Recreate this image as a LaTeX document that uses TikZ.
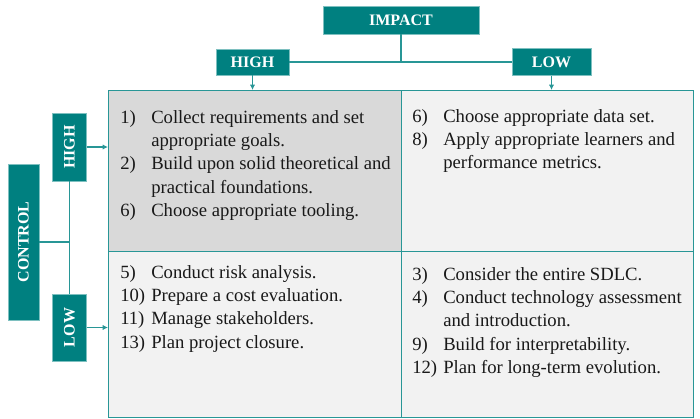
\documentclass[tikz,border=0pt]{standalone}
\usepackage{fontspec}
\setmainfont{Liberation Serif}
\usetikzlibrary{arrows.meta,positioning}

\definecolor{tealbox}{RGB}{0,128,128}
\definecolor{tealline}{RGB}{40,150,150}
\definecolor{cellgray}{RGB}{217,217,217}
\definecolor{celllight}{RGB}{242,242,242}

\tikzset{
  hdr/.style={draw=tealline!60!white, fill=tealbox, text=white, inner sep=0pt,
    font=\fontsize{12}{14}\selectfont\bfseries},
  cell/.style={draw=tealline, line width=0.8pt, anchor=north west, inner sep=0pt},
  items/.style={anchor=base west, inner sep=0pt, text=black!90,
    font=\fontsize{14}{17.6}\selectfont},
  conn/.style={draw=tealline, line width=0.8pt},
  arr/.style={conn, -{Latex[length=4pt,width=4pt]}}
}
\newcommand{\itemlist}[1]{\begin{tabular}[t]{@{}p{23.25pt}@{}l@{}}#1\end{tabular}}

\begin{document}
\begin{tikzpicture}[x=0.75pt,y=-0.75pt]
    \useasboundingbox (0,0) rectangle (700,418);

    % grid of four cells
    \node[cell, fill=cellgray, minimum width=219.75pt, minimum height=120.75pt] (hh) at (108,90) {};
    \node[cell, fill=celllight, minimum width=219pt, minimum height=120.75pt] (hl) at (401,90) {};
    \node[cell, fill=celllight, minimum width=219.75pt, minimum height=124.5pt] (lh) at (108,251) {};
    \node[cell, fill=celllight, minimum width=219pt, minimum height=124.5pt] (ll) at (401,251) {};

    % impact headers
    \node[hdr, minimum width=117pt, minimum height=21pt] (impact) at (401,20) {IMPACT};
    \node[hdr, minimum width=54.75pt, minimum height=19.5pt] (ihigh) at (252.5,62) {HIGH};
    \node[hdr, minimum width=59.25pt, minimum height=20.25pt] (ilow) at (551.5,62) {LOW};

    % control headers
    \node[hdr, minimum width=23.25pt, minimum height=117pt] (control) at (23.5,242) {\rotatebox{90}{CONTROL}};
    \node[hdr, minimum width=25.5pt, minimum height=51pt] (chigh) at (69.5,147) {\rotatebox{90}{HIGH}};
    \node[hdr, minimum width=25.5pt, minimum height=50.25pt] (clow) at (69.5,327.5) {\rotatebox{90}{LOW}};

    \draw[conn] (impact.south) -- (impact.south |- ihigh.east);
    \draw[conn] (ihigh.east) -- (ilow.west);
    \draw[arr] (ihigh.south) -- (ihigh.south |- hh.north);
    \draw[arr] (ilow.south) -- (ilow.south |- hl.north);

    \draw[conn] (chigh.south) -- (clow.north);
    \draw[conn] (control.east) -- (control.east -| chigh.south);
    \draw[arr] (chigh.east) -- (chigh.east -| hh.west);
    \draw[arr] (clow.east) -- (clow.east -| lh.west);

    % cell texts
    \node[items] (hhtext) at (120,123) {\itemlist{1) & Collect requirements and set\\
      & appropriate goals.\\ 2) & Build upon solid theoretical and\\
      & practical foundations.\\ 6) & Choose appropriate tooling.}};
    \node[items] (hltext) at (412,122) {\itemlist{6) & Choose appropriate data set.\\
      8) & Apply appropriate learners and\\ & performance metrics.}};
    \node[items] (lhtext) at (120,278) {\itemlist{5) & Conduct risk analysis.\\
      10) & Prepare a cost evaluation.\\ 11) & Manage stakeholders.\\
      13) & Plan project closure.}};
    \node[items] (lltext) at (412,280) {\itemlist{3) & Consider the entire SDLC.\\
      4) & Conduct technology assessment\\ & and introduction.\\
      9) & Build for interpretability.\\ 12) & Plan for long-term evolution.}};
\end{tikzpicture}
\end{document}
